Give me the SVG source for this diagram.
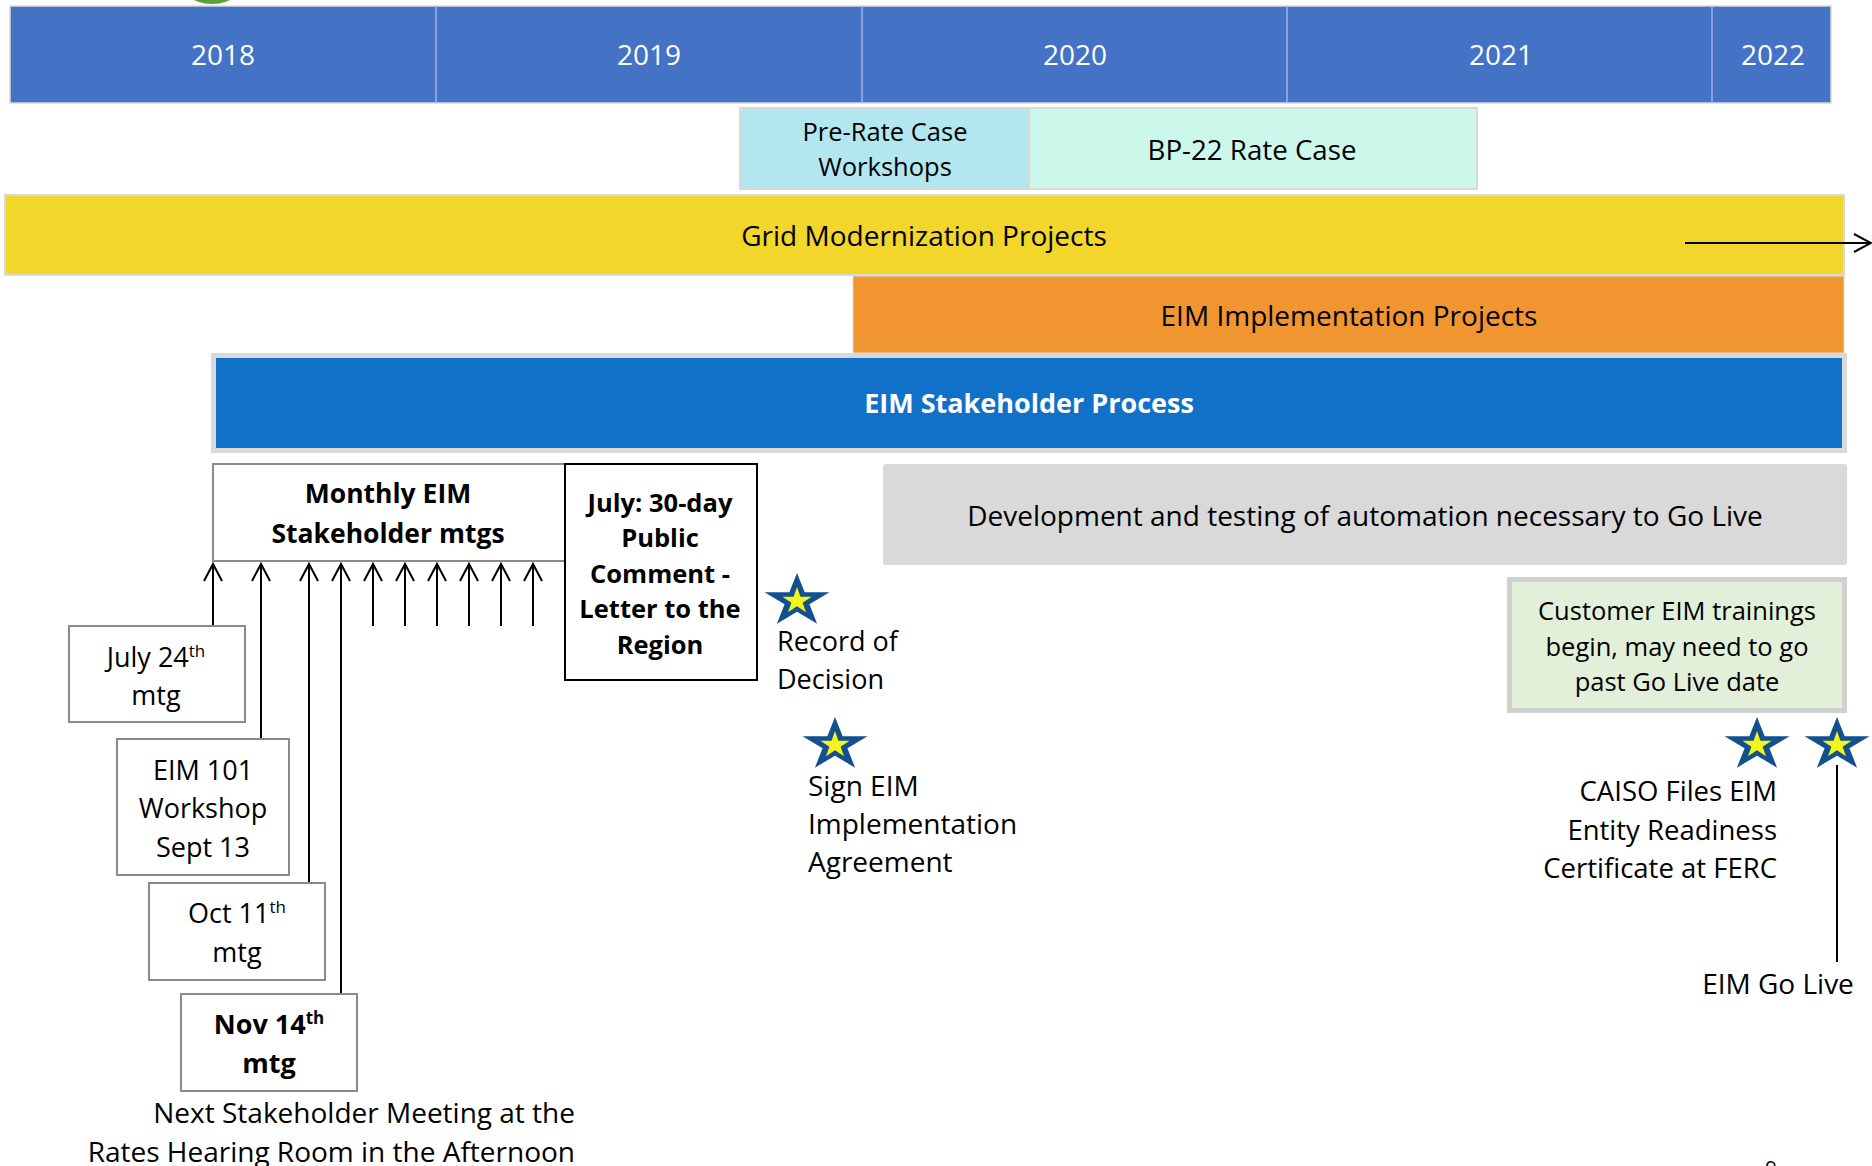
<svg xmlns="http://www.w3.org/2000/svg" xmlns:xlink="http://www.w3.org/1999/xlink" width="1872" height="1166" viewBox="0 0 1872 1166">
<style>
  text { font-family: "Open Sans", "Liberation Sans", sans-serif; fill: #000; }
  .yr { font-size: 28px; fill: #fff; text-anchor: middle; }
  .c { text-anchor: middle; }
  .e { text-anchor: end; }
  .s28 { font-size: 28px; }
  .s27 { font-size: 27px; }
  .s25 { font-size: 25.5px; }
  .b { font-weight: bold; }
  .box { fill: #fff; stroke: #8a8a8a; stroke-width: 2; }
  .bar { stroke: #d9d9d9; stroke-width: 2; }
  .con { stroke: #000; stroke-width: 2; fill: none; }
  .arr { marker-end: url(#open); }
</style>
<defs>
  <marker id="open" viewBox="-20 -12 24 24" refX="0" refY="0" markerWidth="24" markerHeight="24" markerUnits="userSpaceOnUse" orient="auto" overflow="visible">
    <path d="M-17,-9 L0,0 L-17,9" fill="none" stroke="#000" stroke-width="2"/>
  </marker>
  <path id="starshape" d="M0,-28 L7.67,-8.66 L32.5,-8.65 L12.42,3.31 L20.1,22.65 L0,10.7 L-20.1,22.65 L-12.42,3.31 L-32.5,-8.65 L-7.67,-8.66 Z"/>
  <g id="star">
    <use xlink:href="#starshape" fill="#13508F"/>
    <use xlink:href="#starshape" fill="#F4F41E" transform="scale(0.45,0.5)"/>
  </g>
</defs>
<rect width="1872" height="1166" fill="#fff"/>
<ellipse cx="212" cy="-30" rx="38" ry="34" fill="#5FA03A"/>

<g id="years">
  <rect x="10" y="6" width="1821" height="97" fill="#4472C4" stroke="#d9d9d9" stroke-width="1.5"/>
  <g stroke="#9DB3E0" stroke-width="1.5">
    <line x1="436" y1="6" x2="436" y2="103"/>
    <line x1="862" y1="6" x2="862" y2="103"/>
    <line x1="1287" y1="6" x2="1287" y2="103"/>
    <line x1="1712" y1="6" x2="1712" y2="103"/>
  </g>
  <text class="yr" x="223" y="65">2018</text>
  <text class="yr" x="649" y="65">2019</text>
  <text class="yr" x="1075" y="65">2020</text>
  <text class="yr" x="1501" y="65">2021</text>
  <text class="yr" x="1773" y="65">2022</text>
</g>

<g id="prerate">
  <rect class="bar" x="740" y="108" width="289" height="81" fill="#B2E7F0"/>
  <text class="c s25" x="885" y="141">Pre-Rate Case</text>
  <text class="c s25" x="885" y="176">Workshops</text>
</g>
<g id="bp22">
  <rect class="bar" x="1029" y="108" width="448" height="81" fill="#CCF7EB"/>
  <text class="c" style="font-size:27.7px" x="1252" y="160">BP-22 Rate Case</text>
</g>
<g id="grid">
  <rect class="bar" x="5" y="195" width="1839" height="80" fill="#F2D62B"/>
  <text class="c s28" x="924" y="246">Grid Modernization Projects</text>
</g>
<g id="eimimpl">
  <rect x="853" y="276" width="991" height="77" fill="#F19530" stroke="#d9d9d9" stroke-width="1"/>
  <text class="c s28" x="1349" y="326">EIM Implementation Projects</text>
</g>
<g id="stakeholder">
  <rect x="213.5" y="355.5" width="1631" height="95" fill="#1170C8" stroke="#d9d9d9" stroke-width="5"/>
  <text class="c b" style="font-size:27px;fill:#fff" x="1029" y="413">EIM Stakeholder Process</text>
</g>
<g id="development">
  <rect x="883" y="464" width="964" height="101" rx="3" fill="#D9D9D9"/>
  <text class="c s28" x="1365" y="526">Development and testing of automation necessary to Go Live</text>
</g>

<g id="connectors">
  <line class="con arr" x1="1685" y1="243" x2="1871" y2="243"/>
  <line class="con arr" x1="213" y1="626" x2="213" y2="564"/>
  <line class="con arr" x1="261" y1="739" x2="261" y2="564"/>
  <line class="con arr" x1="309" y1="883" x2="309" y2="564"/>
  <line class="con arr" x1="341" y1="994" x2="341" y2="564"/>
  <line class="con arr" x1="373" y1="626" x2="373" y2="564"/>
  <line class="con arr" x1="405" y1="626" x2="405" y2="564"/>
  <line class="con arr" x1="437" y1="626" x2="437" y2="564"/>
  <line class="con arr" x1="469" y1="626" x2="469" y2="564"/>
  <line class="con arr" x1="501" y1="626" x2="501" y2="564"/>
  <line class="con arr" x1="533" y1="626" x2="533" y2="564"/>
  <line class="con" x1="1837" y1="765" x2="1837" y2="962"/>
</g>

<g id="monthly">
  <rect class="box" x="213" y="464" width="352" height="97"/>
  <text class="c b" style="font-size:26.5px" x="388" y="503">Monthly EIM</text>
  <text class="c b" style="font-size:26.5px" x="388" y="543">Stakeholder mtgs</text>
</g>
<g id="july30">
  <rect x="565" y="464" width="192" height="216" fill="#fff" stroke="#000" stroke-width="2"/>
  <text class="c s25 b" x="660" y="512">July: 30-day</text>
  <text class="c s25 b" x="660" y="547">Public</text>
  <text class="c s25 b" x="660" y="583">Comment -</text>
  <text class="c s25 b" x="660" y="618">Letter to the</text>
  <text class="c s25 b" x="660" y="654">Region</text>
</g>
<g id="july24">
  <rect class="box" x="69" y="626" width="176" height="96"/>
  <text class="c s27" x="156" y="667">July 24<tspan dy="-10" font-size="17">th</tspan></text>
  <text class="c s27" x="156" y="705">mtg</text>
</g>
<g id="eim101">
  <rect class="box" x="117" y="739" width="172" height="136"/>
  <text class="c s27" x="203" y="780">EIM 101</text>
  <text class="c s27" x="203" y="818">Workshop</text>
  <text class="c s27" x="203" y="857">Sept 13</text>
</g>
<g id="oct11">
  <rect class="box" x="149" y="883" width="176" height="97"/>
  <text class="c s27" x="237" y="923">Oct 11<tspan dy="-10" font-size="17">th</tspan></text>
  <text class="c s27" x="237" y="962">mtg</text>
</g>
<g id="nov14">
  <rect class="box" x="181" y="994" width="176" height="97"/>
  <text class="c s27 b" x="269" y="1034">Nov 14<tspan dy="-10" font-size="17">th</tspan></text>
  <text class="c s27 b" x="269" y="1073">mtg</text>
</g>
<g id="nextmeeting">
  <text class="e s28" x="575" y="1123">Next Stakeholder Meeting at the</text>
  <text class="e s28" x="575" y="1162">Rates Hearing Room in the Afternoon</text>
</g>

<g id="rod">
  <use xlink:href="#star" x="797" y="601"/>
  <text class="s27" x="777" y="651">Record of</text>
  <text class="s27" x="777" y="689">Decision</text>
</g>
<g id="signeim">
  <use xlink:href="#star" x="835" y="745"/>
  <text class="s28" x="808" y="796">Sign EIM</text>
  <text class="s28" x="808" y="834">Implementation</text>
  <text class="s28" x="808" y="872">Agreement</text>
</g>
<g id="customer">
  <rect x="1509.5" y="579.5" width="335" height="131" fill="#E2F0D9" stroke="#d0d0d0" stroke-width="5"/>
  <text class="c s25" x="1677" y="620">Customer EIM trainings</text>
  <text class="c s25" x="1677" y="656">begin, may need to go</text>
  <text class="c s25" x="1677" y="691">past Go Live date</text>
</g>
<g id="caiso">
  <use xlink:href="#star" x="1757" y="745"/>
  <text class="e" style="font-size:27.5px" x="1777" y="801">CAISO Files EIM</text>
  <text class="e" style="font-size:27.5px" x="1777" y="840">Entity Readiness</text>
  <text class="e" style="font-size:27.5px" x="1777" y="878">Certificate at FERC</text>
</g>
<g id="golive">
  <use xlink:href="#star" x="1837" y="745"/>
  <text class="c s28" x="1778" y="994">EIM Go Live</text>
</g>
<text class="c" style="font-size:20px" x="1771" y="1175">9</text>
</svg>
